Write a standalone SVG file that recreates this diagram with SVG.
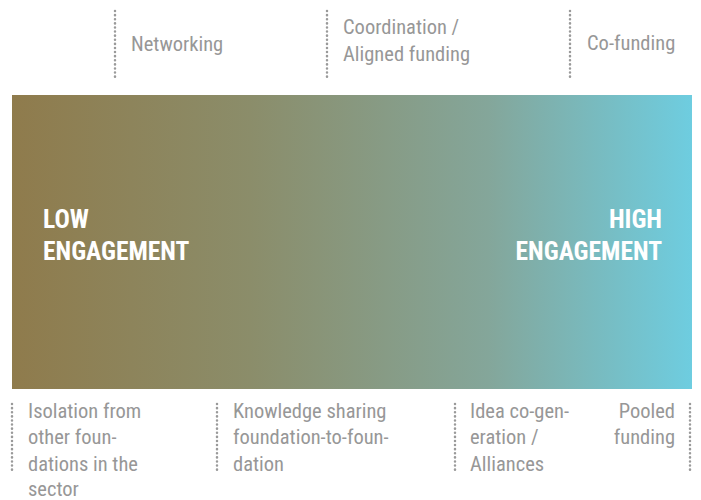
<svg xmlns="http://www.w3.org/2000/svg" width="701" height="500" viewBox="0 0 701 500">
<style>
.lbl{font-family:"Liberation Sans Narrow","Roboto Condensed",Roboto,"Liberation Sans",sans-serif;font-size:20.5px;fill:#979797}
.big{font-family:"Liberation Sans Narrow","Roboto Condensed",Roboto,"Liberation Sans",sans-serif;font-size:25.5px;font-weight:bold;fill:#ffffff}
.dot{stroke:#9a9a9a;stroke-width:2.5;stroke-dasharray:0.1 4;stroke-linecap:round;fill:none}
</style>
<defs>
<linearGradient id="g" x1="0" y1="0" x2="1" y2="0">
<stop offset="0" stop-color="#8f7b4c"/>
<stop offset="0.35" stop-color="#8b8d6a"/>
<stop offset="0.7" stop-color="#84a69a"/>
<stop offset="1" stop-color="#6ecde0"/>
</linearGradient>
</defs>
<g id="bar">
<rect x="12" y="95" width="680" height="294" fill="url(#g)"/>
<text class="big" x="43" y="228">LOW</text>
<text class="big" x="43" y="260">ENGAGEMENT</text>
<text class="big" x="662" y="228" text-anchor="end">HIGH</text>
<text class="big" x="662" y="260" text-anchor="end">ENGAGEMENT</text>
</g>
<g id="connectors">
<line class="dot" x1="115" y1="11" x2="115" y2="79"/>
<line class="dot" x1="327" y1="11" x2="327" y2="79"/>
<line class="dot" x1="570" y1="11" x2="570" y2="79"/>
<line class="dot" x1="12" y1="404" x2="12" y2="472"/>
<line class="dot" x1="217" y1="404" x2="217" y2="472"/>
<line class="dot" x1="455" y1="404" x2="455" y2="472"/>
<line class="dot" x1="690" y1="404" x2="690" y2="472"/>
</g>
<g id="networking"><text class="lbl" x="131" y="51">Networking</text></g>
<g id="coordination"><text class="lbl" x="343" y="34">Coordination /</text><text class="lbl" x="343" y="61">Aligned funding</text></g>
<g id="cofunding"><text class="lbl" x="587" y="50">Co-funding</text></g>
<g id="isolation"><text class="lbl" x="28" y="418">Isolation from</text><text class="lbl" x="28" y="444">other foun-</text><text class="lbl" x="28" y="471">dations in the</text><text class="lbl" x="28" y="496">sector</text></g>
<g id="knowledge"><text class="lbl" x="233" y="418">Knowledge sharing</text><text class="lbl" x="233" y="444">foundation-to-foun-</text><text class="lbl" x="233" y="471">dation</text></g>
<g id="idea"><text class="lbl" x="470" y="418">Idea co-gen-</text><text class="lbl" x="470" y="444">eration /</text><text class="lbl" x="470" y="471">Alliances</text></g>
<g id="pooled"><text class="lbl" x="675" y="418" text-anchor="end">Pooled</text><text class="lbl" x="675" y="444" text-anchor="end">funding</text></g>
</svg>
